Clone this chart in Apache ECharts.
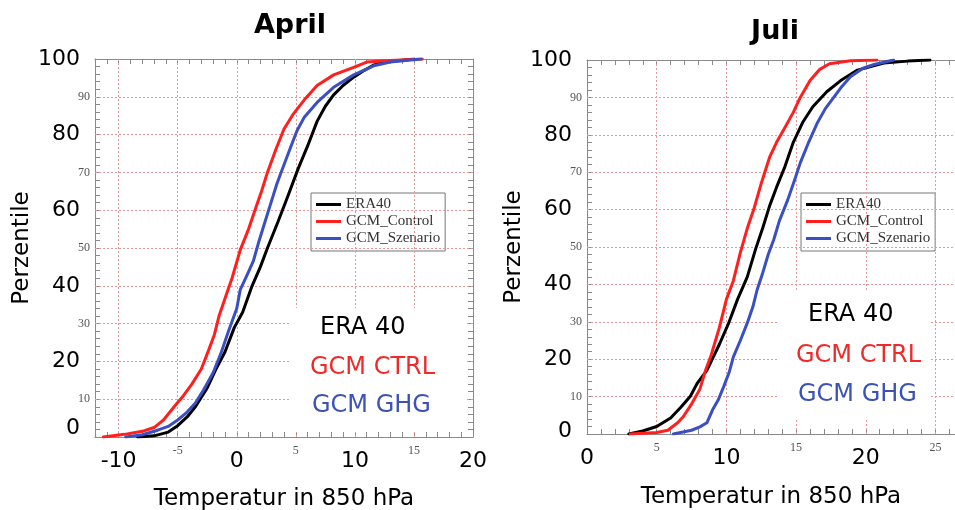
<!DOCTYPE html>
<html>
<head>
<meta charset="utf-8">
<script src="https://cdn.jsdelivr.net/npm/echarts@6/dist/echarts.min.js"></script>
<style>
  html, body { margin: 0; padding: 0; background: #fff; }
  #chart { width: 955px; height: 510px; }
</style>
</head>
<body>
<div id="chart"></div>
<script>
// April: [temperature, percentile]
const aprilEra = [[-8.4,0],[-7,0.3],[-5.8,1.3],[-5,3],[-4.2,5.3],[-3.5,8],[-2.5,13],[-1.8,17.7],[-1,22.5],[-0.2,29],[0.5,33],[1.3,40],[2,45],[2.6,50],[3.5,57],[4.3,63.5],[5.2,71],[6,77],[6.8,83.5],[7.5,87.5],[8.2,90.5],[9,93],[9.9,95.2],[10.8,97],[11.6,98.4],[12.8,99.3],[14,99.7],[15,100]];
const aprilCtrl = [[-11.3,0],[-9.5,0.7],[-8,1.5],[-7,2.5],[-6.2,4.5],[-5.3,8],[-4.5,11],[-3.8,14],[-3,18],[-2.5,22],[-1.9,27],[-1.5,32],[-0.9,37.5],[-0.4,42],[0.3,49.5],[1,55],[1.6,60.5],[2.1,65],[2.6,70],[3.3,76],[4,81.5],[4.8,85.5],[5.8,89.5],[6.8,93],[8.2,95.8],[9.9,97.8],[11,99.2],[13,99.6],[15.7,100]];
const aprilGhg = [[-9.4,0],[-8,0.6],[-6.7,1.8],[-5.8,2.8],[-5,4.5],[-4.3,6.3],[-3.5,9],[-2.8,12.5],[-2,17],[-1.3,22.5],[-0.7,28],[0,34],[0.3,39],[0.9,43],[1.4,46.5],[1.9,52],[2.4,57],[2.9,62],[3.4,67],[4,72],[4.6,77],[5.1,81],[5.7,84.5],[6.8,88.5],[8.2,92.5],[9.9,95.8],[11.6,98.2],[13,99.2],[15.6,100]];

// Juli
const juliEra = [[3,0],[4,0.8],[5,2],[6,4.3],[6.7,7],[7.4,10],[7.9,13.5],[8.6,17],[9.5,24],[10.2,30],[10.8,36],[11.5,42],[12.1,49.5],[12.6,55],[13.1,61],[13.6,66],[14.2,71.5],[14.8,78],[15.5,83.5],[16.2,87.5],[17.2,91.5],[18.2,94.5],[19.4,97.3],[21.3,99.2],[23,99.7],[24.6,100]];
const juliCtrl = [[3.1,0],[5,0.4],[5.8,1],[6.5,3],[6.9,4.6],[7.5,8],[8.1,12],[8.5,17],[8.9,21],[9.5,28.5],[10,36],[10.5,41],[11,48.5],[11.5,55],[12,60.5],[12.5,67],[13.1,74],[13.6,78],[14.1,81.3],[14.8,86],[15.3,90],[16,94.5],[16.7,97.5],[17.4,99],[18.9,99.8],[20.8,100]];
const juliGhg = [[6.2,0],[7.5,1],[8.1,1.9],[8.6,3],[9,6.4],[9.4,9],[9.8,12.6],[10.2,16.5],[10.5,20.6],[11,25],[11.5,29.7],[11.9,34],[12.2,38.5],[12.6,43],[13,48],[13.4,52],[13.8,57],[14.4,62.6],[14.9,68],[15.3,72.5],[15.9,78],[16.5,83],[17.1,87],[17.7,90],[18.3,93],[18.9,95.5],[19.8,97.8],[20.6,98.8],[22,100]];

// tick labels and grid lines
const aprilBigX = [-10, 0, 10, 20];
const aprilSmallX = [-5, 5, 15];
const aprilGridX = [-10, -5, 0, 5, 10, 15];
const juliBigX = [0, 10, 20];
const juliSmallX = [5, 15, 25];
const juliGridX = [5, 10, 15, 20, 25];
const bigY = [0, 20, 40, 60, 80, 100];
const smallY = [10, 30, 50, 70, 90];
const gridY = [10, 20, 30, 40, 50, 60, 70, 80, 90];

const seriesNames = ['ERA40', 'GCM_Control', 'GCM_Szenario'];
const labelTexts = ['ERA 40', 'GCM CTRL', 'GCM GHG'];

const cBlack = '#000000', cRed = '#ff1f1f', cBlue = '#3a4fc2';
const frame = '#8a8a8a';

const bigStyle = { fontSize: 22, fontFamily: 'DejaVu Sans', color: '#000' };
const smallStyle = { fontSize: 12, fontFamily: 'Liberation Serif', color: '#555' };

function xLabel(big, small) {
    return {
        margin: 7,
        formatter: v => big.includes(v) ? '{big|' + v + '}' : (small.includes(v) ? '{small|' + v + '}' : ''),
        rich: {
            big: Object.assign({ padding: [11, 0, 0, 0], lineHeight: 24 }, bigStyle),
            small: Object.assign({ lineHeight: 14 }, smallStyle)
        }
    };
}

function yLabel(zeroShift) {
    return {
        margin: 5,
        formatter: v => {
            if (v === 0) return '{zero|0}';
            if (bigY.includes(v)) return '{big|' + v + '}';
            if (smallY.includes(v)) return '{small|' + v + '}';
            return '';
        },
        rich: {
            big: Object.assign({ padding: [0, 10, 0, 0] }, bigStyle),
            zero: Object.assign({ padding: [0, 10, zeroShift, 0] }, bigStyle),
            small: smallStyle
        }
    };
}

const axisLine = { onZero: false, lineStyle: { color: frame, width: 1 } };
const axisTick = { inside: true, length: 5, lineStyle: { color: frame } };

function xAxis(grid, pos, min, max, label, gap) {
    return {
        type: 'value', gridIndex: grid, position: pos, min: min, max: max, interval: 1,
        axisLine: axisLine, axisTick: axisTick, splitLine: { show: false },
        axisLabel: label || { show: false },
        name: label ? 'Temperatur in 850 hPa' : '',
        nameLocation: 'middle', nameGap: gap || 50,
        nameTextStyle: { fontSize: 23, fontFamily: 'DejaVu Sans', color: '#000' }
    };
}

function yAxis(grid, pos, label) {
    return {
        type: 'value', gridIndex: grid, position: pos, min: 0, max: 100, interval: 2,
        axisLine: axisLine, axisTick: axisTick, splitLine: { show: false },
        axisLabel: label || { show: false },
        name: label ? 'Perzentile' : '',
        nameLocation: 'middle', nameGap: 61, nameRotate: 90,
        nameTextStyle: { fontSize: 23, fontFamily: 'DejaVu Sans', color: '#000' }
    };
}

function gridLines(xi, yi, xs) {
    return {
        type: 'scatter', xAxisIndex: xi, yAxisIndex: yi, data: [], z: 1, silent: true,
        markLine: {
            silent: true, symbol: 'none', label: { show: false },
            lineStyle: { color: '#e59a9a', type: [2, 2], width: 1 },
            data: xs.map(v => ({ xAxis: v })).concat(gridY.map(v => ({ yAxis: v })))
        }
    };
}

function curve(name, data, color, xi, yi) {
    return {
        name: name, type: 'line', data: data, xAxisIndex: xi, yAxisIndex: yi,
        showSymbol: false, smooth: false, z: 5,
        lineStyle: { color: color, width: 3, join: 'round', cap: 'round' }, itemStyle: { color: color }
    };
}

function legend(left) {
    return {
        data: seriesNames, orient: 'vertical', left: left, top: 193,
        icon: 'rect', itemWidth: 25, itemHeight: 3, itemGap: 0,
        padding: [3, 5, 4, 5],
        borderColor: '#777', borderWidth: 1, backgroundColor: '#fff',
        textStyle: { fontFamily: 'Liberation Serif', fontSize: 15, color: '#333', lineHeight: 17 },
        selectedMode: false
    };
}

function labelBlock(x, ys) {
    const colors = [cBlack, '#f02a2a', '#3c52b6'];
    return labelTexts.map((t, i) => ({
        type: 'text', left: x[i], top: ys[i] - 14, z: 20,
        style: { text: t, fill: colors[i], font: '24px "DejaVu Sans"' }
    }));
}

const chart = echarts.init(document.getElementById('chart'));
const option = {
    backgroundColor: '#fff',
    animation: false,
    title: [
        { text: 'April', left: 285, top: 7, textAlign: 'center',
          textStyle: { fontSize: 27, fontWeight: 'bold', fontFamily: 'DejaVu Sans', color: '#000' } },
        { text: 'Juli', left: 770, top: 13, textAlign: 'center',
          textStyle: { fontSize: 27, fontWeight: 'bold', fontFamily: 'DejaVu Sans', color: '#000' } }
    ],
    grid: [
        { left: 95, top: 59, width: 378, height: 378, outerBoundsMode: 'none' },
        { left: 587, top: 60, width: 368, height: 374, outerBoundsMode: 'none' }
    ],
    xAxis: [
        xAxis(0, 'bottom', -12, 20, xLabel(aprilBigX, aprilSmallX), 51),
        xAxis(0, 'top', -12, 20, null),
        xAxis(1, 'bottom', 0, 26.4, xLabel(juliBigX, juliSmallX), 52),
        xAxis(1, 'top', 0, 26.4, null)
    ],
    yAxis: [
        yAxis(0, 'left', yLabel(17)),
        yAxis(0, 'right', null),
        yAxis(1, 'left', yLabel(6))
    ],
    legend: [legend(311), legend(801)],
    series: [
        gridLines(0, 0, aprilGridX),
        gridLines(2, 2, juliGridX),
        curve(seriesNames[0], aprilEra, cBlack, 0, 0),
        curve(seriesNames[1], aprilCtrl, cRed, 0, 0),
        curve(seriesNames[2], aprilGhg, cBlue, 0, 0),
        curve(seriesNames[0], juliEra, cBlack, 2, 2),
        curve(seriesNames[1], juliCtrl, cRed, 2, 2),
        curve(seriesNames[2], juliGhg, cBlue, 2, 2)
    ],
    graphic: [
        { type: 'rect', shape: { x: 290, y: 308, width: 176, height: 124 }, style: { fill: '#fff' }, z: 10, silent: true },
        { type: 'rect', shape: { x: 777, y: 292, width: 152, height: 126 }, style: { fill: '#fff' }, z: 10, silent: true }
    ].concat(labelBlock([320, 310, 312], [330, 370, 408]))
     .concat(labelBlock([808, 796, 798], [317, 358, 397]))
};
chart.setOption(option);
</script>
</body>
</html>
